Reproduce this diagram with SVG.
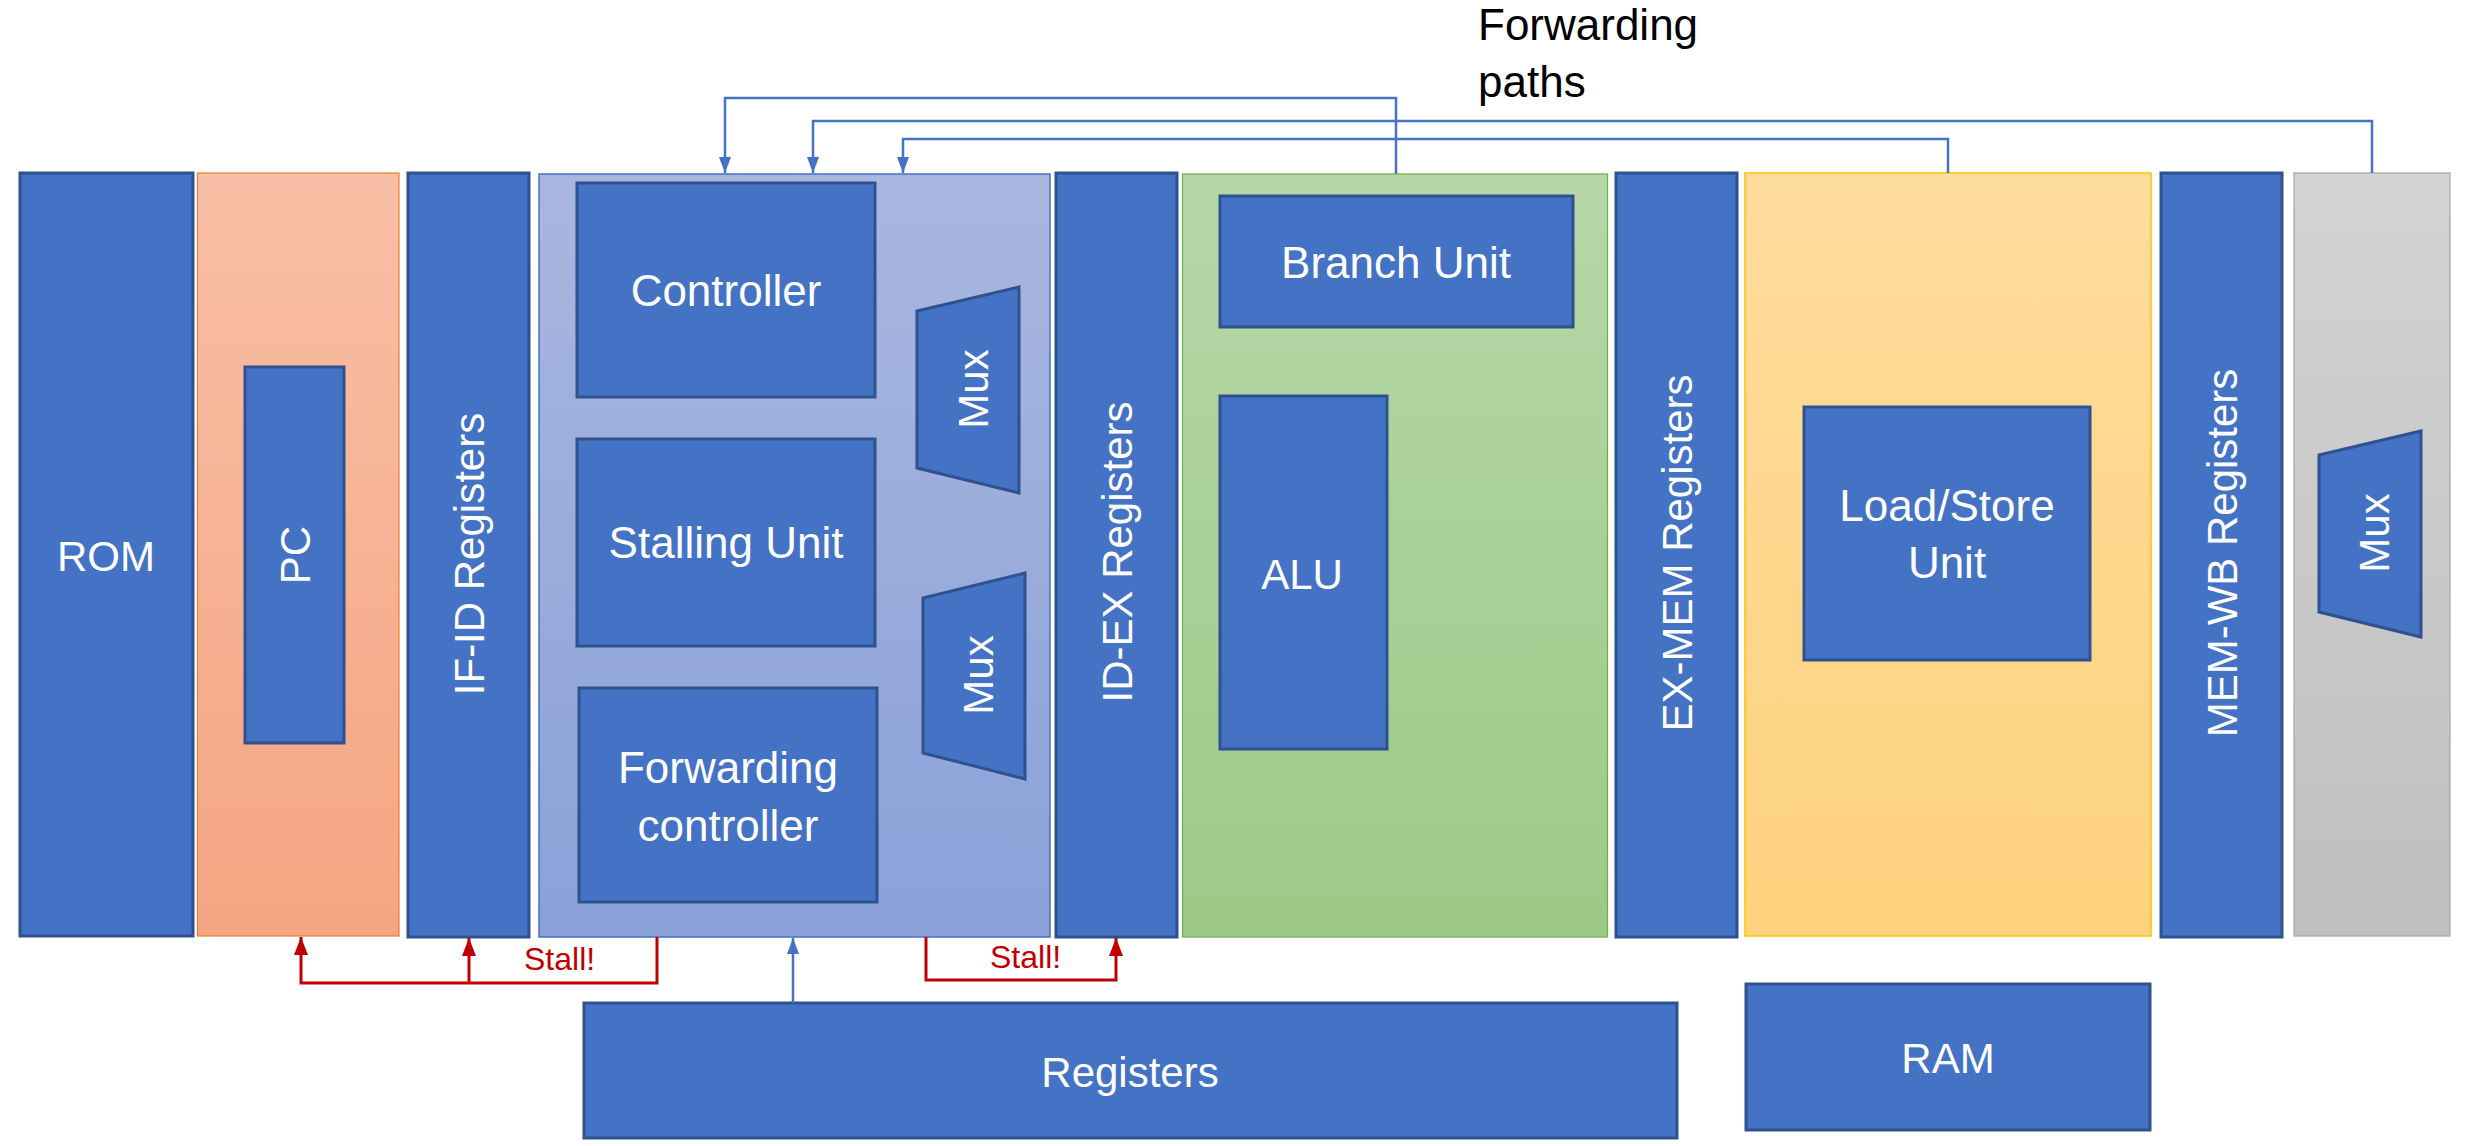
<svg xmlns="http://www.w3.org/2000/svg" width="2492" height="1146" viewBox="0 0 2492 1146">
<style>
.blk{fill:#4472C4;stroke:#2F528F;stroke-width:3}
.t{font-family:"Liberation Sans",Arial,sans-serif;fill:#FFFFFF;font-size:44px;text-anchor:middle}
.v{font-family:"Liberation Sans",Arial,sans-serif;fill:#FFFFFF;font-size:42px;text-anchor:middle}
.stall{font-family:"Liberation Sans",Arial,sans-serif;fill:#C00000;font-size:32px}
.fw{fill:none;stroke:#4472C4;stroke-width:2.5}
.rd{fill:none;stroke:#C00000;stroke-width:3}
</style>
<defs>
<linearGradient id="gPC" x1="0" y1="0" x2="0" y2="1"><stop offset="0" stop-color="#F8BFA6"/><stop offset="1" stop-color="#F5A582"/></linearGradient>
<linearGradient id="gID" x1="0" y1="0" x2="0" y2="1"><stop offset="0" stop-color="#A9B7DF"/><stop offset="1" stop-color="#8AA1D8"/></linearGradient>
<linearGradient id="gEX" x1="0" y1="0" x2="0" y2="1"><stop offset="0" stop-color="#B6D7A8"/><stop offset="1" stop-color="#9DC988"/></linearGradient>
<linearGradient id="gMEM" x1="0" y1="0" x2="0" y2="1"><stop offset="0" stop-color="#FEDC9C"/><stop offset="1" stop-color="#FDD27E"/></linearGradient>
<linearGradient id="gWB" x1="0" y1="0" x2="0" y2="1"><stop offset="0" stop-color="#D3D3D3"/><stop offset="1" stop-color="#BFBFBF"/></linearGradient>
<marker id="ab" markerUnits="userSpaceOnUse" markerWidth="16" markerHeight="12" refX="16" refY="6" orient="auto"><path d="M0,0 L16,6 L0,12 z" fill="#4472C4"/></marker>
<marker id="ar" markerUnits="userSpaceOnUse" markerWidth="18" markerHeight="14" refX="18" refY="7" orient="auto"><path d="M0,0 L18,7 L0,14 z" fill="#C00000"/></marker>
</defs>

<g id="stage-if">
<rect x="197.5" y="173" width="201.5" height="763" fill="url(#gPC)" stroke="#ED7D31" stroke-width="1.2"/>
</g>
<g id="stage-id">
<rect x="539" y="174" width="511" height="763" fill="url(#gID)" stroke="#4472C4" stroke-width="1.5"/>
</g>
<g id="stage-ex">
<rect x="1182.5" y="174" width="425" height="763" fill="url(#gEX)" stroke="#70AD47" stroke-width="1.2"/>
</g>
<g id="stage-mem">
<rect x="1745" y="173" width="406" height="763" fill="url(#gMEM)" stroke="#FFC000" stroke-width="1.5"/>
</g>
<g id="stage-wb">
<rect x="2294" y="173" width="156" height="763" fill="url(#gWB)" stroke="#A5A5A5" stroke-width="1.2"/>
</g>

<g id="rom"><rect class="blk" x="20" y="173" width="173" height="763"/><text class="t" x="106" y="571" style="font-size:42px">ROM</text></g>
<g id="pc"><rect class="blk" x="245" y="367" width="99" height="376"/><text class="v" transform="translate(295,555) rotate(-90)" x="0" y="15">PC</text></g>
<g id="if-id"><rect class="blk" x="408" y="173" width="121" height="764"/><text class="v" transform="translate(469,554) rotate(-90)" x="0" y="15">IF-ID Registers</text></g>

<g id="controller"><rect class="blk" x="577" y="183" width="298" height="214"/><text class="t" x="726" y="306">Controller</text></g>
<g id="stalling-unit"><rect class="blk" x="577" y="439" width="298" height="207"/><text class="t" x="726" y="558">Stalling Unit</text></g>
<g id="forwarding-controller"><rect class="blk" x="579" y="688" width="298" height="214"/><text class="t" x="728" y="783">Forwarding</text><text class="t" x="728" y="841">controller</text></g>
<g id="mux1"><polygon class="blk" points="917,311 1019,287 1019,493 917,468"/><text class="v" transform="translate(973,389) rotate(-90)" x="0" y="15">Mux</text></g>
<g id="mux2"><polygon class="blk" points="923,598 1025,573 1025,779 923,753"/><text class="v" transform="translate(978,675) rotate(-90)" x="0" y="15">Mux</text></g>

<g id="id-ex"><rect class="blk" x="1056" y="173" width="121" height="764"/><text class="v" transform="translate(1117,552) rotate(-90)" x="0" y="15">ID-EX Registers</text></g>

<g id="branch-unit"><rect class="blk" x="1220" y="196" width="353" height="131"/><text class="t" x="1396" y="278">Branch Unit</text></g>
<g id="alu"><rect class="blk" x="1220" y="396" width="167" height="353"/><text class="t" x="1302" y="589" style="font-size:42px">ALU</text></g>

<g id="ex-mem"><rect class="blk" x="1616" y="173" width="121" height="764"/><text class="v" transform="translate(1677,553) rotate(-90)" x="0" y="15">EX-MEM Registers</text></g>

<g id="load-store-unit"><rect class="blk" x="1804" y="407" width="286" height="253"/><text class="t" x="1947" y="521">Load/Store</text><text class="t" x="1947" y="578">Unit</text></g>

<g id="mem-wb"><rect class="blk" x="2161" y="173" width="121" height="764"/><text class="v" transform="translate(2222,553) rotate(-90)" x="0" y="15">MEM-WB Registers</text></g>
<g id="mux3"><polygon class="blk" points="2319,455 2421,431 2421,637 2319,612"/><text class="v" transform="translate(2374,533) rotate(-90)" x="0" y="15">Mux</text></g>

<g id="registers"><rect class="blk" x="584" y="1003" width="1093" height="135"/><text class="t" x="1130" y="1087" style="font-size:42px">Registers</text></g>
<g id="ram"><rect class="blk" x="1746" y="984" width="404" height="146"/><text class="t" x="1948" y="1073" style="font-size:42px">RAM</text></g>

<g id="connectors">
<path class="fw" d="M1396,174 V98 H725 V173" marker-end="url(#ab)"/>
<path class="fw" d="M2372,173 V121 H813 V173" marker-end="url(#ab)"/>
<path class="fw" d="M1948,173 V139 H903 V173" marker-end="url(#ab)"/>
<path class="fw" d="M793,1003 V938" marker-end="url(#ab)"/>
<path class="rd" d="M657,937 V983 H301 V937" marker-end="url(#ar)"/>
<path class="rd" d="M469,983 V938" marker-end="url(#ar)"/>
<path class="rd" d="M926,937 V980 H1116 V938" marker-end="url(#ar)"/>
<text class="stall" x="524" y="970">Stall!</text>
<text class="stall" x="990" y="968">Stall!</text>
</g>

<g id="label-forwarding-paths">
<text x="1478" y="40" style="font-family:'Liberation Sans',Arial,sans-serif;font-size:44px;fill:#000000">Forwarding</text>
<text x="1478" y="97" style="font-family:'Liberation Sans',Arial,sans-serif;font-size:44px;fill:#000000">paths</text>
</g>
</svg>
